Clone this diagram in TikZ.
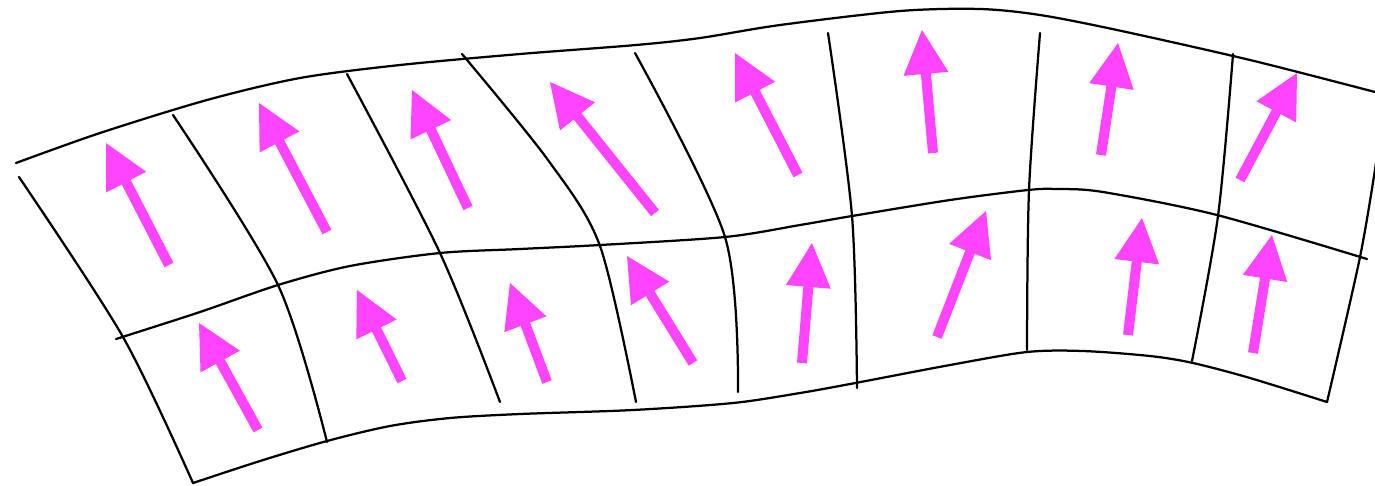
\documentclass[tikz,border=0pt]{standalone}
\usetikzlibrary{calc}
\definecolor{mag}{RGB}{255,68,255}
\tikzset{
  gridline/.style={black, line width=0.045cm, line cap=round},
  shaft/.style={mag, line width=0.2cm},
  head/.style={mag, draw=none, fill=mag}
}
\newcommand\magvec[3]{% name, tail, tip
  \coordinate (#1t) at (#2);
  \coordinate (#1h) at (#3);
  \coordinate (#1b) at ($(#1h)!0.88cm!(#1t)$);
  \draw[shaft] (#1t) -- ($(#1h)!0.8cm!(#1t)$);
  \fill[head] (#1h) -- ($(#1b)!0.45cm!90:(#1h)$) -- ($(#1b)!0.45cm!-90:(#1h)$) -- cycle;
}
\begin{document}
\begin{tikzpicture}[x=0.02cm, y=-0.02cm]
\useasboundingbox (0,0) rectangle (1375,485);
% longitudinal curves
\draw[gridline] plot[smooth] coordinates {(16,163) (100,133) (207,100) (300,78) (400,65) (520,54) (636,45) (700,38) (780,25) (900,11) (980,9) (1040,15) (1117,30) (1250,60) (1375,92)};
\draw[gridline] plot[smooth] coordinates {(116,339) (200,312) (278,285) (350,266) (440,253) (520,249) (600,245) (725,237) (800,225) (852,216) (950,200) (1028,190) (1057,189) (1103,192) (1217,215) (1367,259)};
\draw[gridline] plot[smooth] coordinates {(193,483) (260,461) (327,441) (390,426) (450,418) (520,414) (633,410) (733,403) (800,393) (850,384) (950,365) (1027,352) (1083,351) (1150,356) (1193,363) (1250,378) (1327,402)};
% transversal curves
\draw[gridline] plot[smooth] coordinates {(19,177) (123,337) (193,483)};
\draw[gridline] plot[smooth] coordinates {(173,115) (278,285) (327,442)};
\draw[gridline] plot[smooth] coordinates {(347,74) (440,253) (500,402)};
\draw[gridline] plot[smooth] coordinates {(462,54) (548,160) (600,246) (636,402)};
\draw[gridline] plot[smooth] coordinates {(635,53) (725,237) (738,392)};
\draw[gridline] plot[smooth] coordinates {(828,33) (852,216) (857,388)};
\draw[gridline] plot[smooth] coordinates {(1040,33) (1029,190) (1027,350)};
\draw[gridline] plot[smooth] coordinates {(1233,54) (1218,216) (1192,361)};
\draw[gridline] plot[smooth] coordinates {(1376,163) (1360,257) (1327,402)};
% vectors, top row
\magvec{a1}{169,265}{106,143}
\magvec{a2}{327,232}{259,103}
\magvec{a3}{468,208}{412,90}
\magvec{a4}{655,213}{550,82}
\magvec{a5}{798,175}{735,53}
\magvec{a6}{933,153}{922,30}
\magvec{a7}{1101,155}{1118,43}
\magvec{a8}{1240,180}{1297,73}
% vectors, bottom row
\magvec{b1}{258,430}{199,323}
\magvec{b2}{402,381}{357,290}
\magvec{b3}{547,382}{510,283}
\magvec{b4}{693,363}{627,256}
\magvec{b5}{802,363}{812,243}
\magvec{b6}{937,337}{986,211}
\magvec{b7}{1128,335}{1142,218}
\magvec{b8}{1253,353}{1272,235}
\end{tikzpicture}
\end{document}
